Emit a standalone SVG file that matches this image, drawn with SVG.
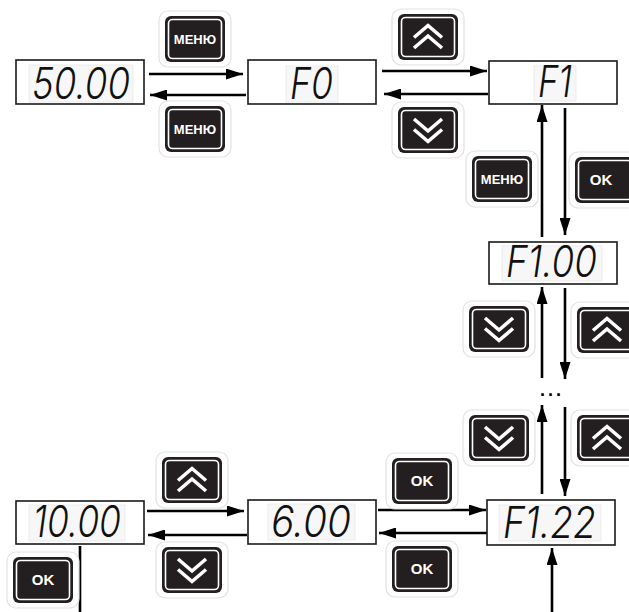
<svg xmlns="http://www.w3.org/2000/svg" width="629" height="612" viewBox="0 0 629 612">
<style>
.box{fill:#fff;stroke:#1a1a1a;stroke-width:1.6}
.hl{fill:#f7f7f7;stroke:#e8e8e8;stroke-width:0.8}
.seg{font-family:Inter,"DejaVu Sans",sans-serif;font-style:italic;font-weight:300;font-size:44px;fill:#111}
.bo{fill:#fff;stroke:#e2e2e2;stroke-width:1.2}
.bd{fill:#231f20}
.bi{fill:none;stroke:#fff;stroke-width:1.6}
.bt{font-family:"Liberation Sans",Arial,sans-serif;font-weight:bold;fill:#fff;text-anchor:middle}
.chev{fill:none;stroke:#fff;stroke-width:3.6;stroke-linejoin:miter;stroke-linecap:butt}
.conn{stroke:#000;stroke-width:2.6;fill:none}
</style>
<defs>
<marker id="ah" markerUnits="userSpaceOnUse" markerWidth="17" markerHeight="11" refX="17" refY="5.5" orient="auto">
<path d="M0,0 L17,5.5 L0,11 z" fill="#000"/>
</marker>
<g id="btn">
<rect class="bo" x="-6" y="-5" width="72" height="56" rx="9"/>
<rect class="bd" x="0" y="0" width="60" height="46" rx="6"/>
<rect class="bi" x="3.5" y="3.5" width="53" height="39" rx="4"/>
</g>
<path id="up" class="chev" d="M16,23.5 L30,11.5 L44,23.5 M16,34 L30,22 L44,34"/>
<path id="dn" class="chev" d="M16,12 L30,24 L44,12 M16,22.5 L30,34.5 L44,22.5"/>
</defs>

<g id="connectors">
<line class="conn" x1="149" y1="74" x2="243" y2="74" marker-end="url(#ah)"/>
<line class="conn" x1="246" y1="95" x2="150" y2="95" marker-end="url(#ah)"/>
<line class="conn" x1="382" y1="71" x2="487" y2="71" marker-end="url(#ah)"/>
<line class="conn" x1="488" y1="94" x2="384" y2="94" marker-end="url(#ah)"/>
<line class="conn" x1="542" y1="237" x2="542" y2="105" marker-end="url(#ah)"/>
<line class="conn" x1="565" y1="108" x2="565" y2="235" marker-end="url(#ah)"/>
<line class="conn" x1="542" y1="378" x2="542" y2="287" marker-end="url(#ah)"/>
<line class="conn" x1="565" y1="288" x2="565" y2="379" marker-end="url(#ah)"/>
<line class="conn" x1="542" y1="494" x2="542" y2="405" marker-end="url(#ah)"/>
<line class="conn" x1="565" y1="407" x2="565" y2="496" marker-end="url(#ah)"/>
<line class="conn" x1="378" y1="510" x2="486" y2="510" marker-end="url(#ah)"/>
<line class="conn" x1="487" y1="533" x2="379" y2="533" marker-end="url(#ah)"/>
<line class="conn" x1="147" y1="511" x2="244" y2="511" marker-end="url(#ah)"/>
<line class="conn" x1="247" y1="535" x2="148" y2="535" marker-end="url(#ah)"/>
<line class="conn" x1="552" y1="612" x2="552" y2="548" marker-end="url(#ah)"/>
<line class="conn" x1="80" y1="546" x2="80" y2="612"/>
<text x="552" y="396" font-family="Liberation Sans,Arial,sans-serif" font-weight="bold" font-size="18" text-anchor="middle" letter-spacing="3">...</text>
</g>

<g id="n5000">
<rect class="box" x="16" y="60" width="128" height="44"/>
<rect class="hl" x="29" y="65" width="104" height="37"/>
<text class="seg" x="32" y="99" textLength="98" lengthAdjust="spacingAndGlyphs">50.00</text>
</g>
<g id="nF0">
<rect class="box" x="248" y="60" width="128" height="44"/>
<rect class="hl" x="286" y="66" width="52" height="36"/>
<text class="seg" x="290" y="99" textLength="43" lengthAdjust="spacingAndGlyphs">F0</text>
</g>
<g id="nF1">
<rect class="box" x="489" y="61" width="128" height="43"/>
<rect class="hl" x="534" y="66" width="42" height="35"/>
<text class="seg" x="538" y="97" textLength="34" lengthAdjust="spacingAndGlyphs">F1</text>
</g>
<g id="nF100">
<rect class="box" x="489" y="242" width="128" height="42"/>
<rect class="hl" x="502" y="246" width="100" height="35"/>
<text class="seg" x="506" y="277" textLength="91" lengthAdjust="spacingAndGlyphs">F1.00</text>
</g>
<g id="nF122">
<rect class="box" x="487" y="500" width="128" height="45"/>
<rect class="hl" x="499" y="505" width="102" height="36"/>
<text class="seg" x="503" y="538" textLength="93" lengthAdjust="spacingAndGlyphs">F1.22</text>
</g>
<g id="n600">
<rect class="box" x="248" y="500" width="128" height="44"/>
<rect class="hl" x="268" y="504" width="87" height="36"/>
<text class="seg" x="271" y="537" textLength="80" lengthAdjust="spacingAndGlyphs">6.00</text>
</g>
<g id="n1000">
<rect class="box" x="16" y="501" width="128" height="43"/>
<rect class="hl" x="29" y="505" width="96" height="36"/>
<text class="seg" x="33" y="537" textLength="88" lengthAdjust="spacingAndGlyphs">10.00</text>
</g>

<g id="b-menu-top" transform="translate(165,16)"><use href="#btn"/><text class="bt" x="30" y="28" font-size="13">МЕНЮ</text></g>
<g id="b-menu-bot" transform="translate(165,106)"><use href="#btn"/><text class="bt" x="30" y="28" font-size="13">МЕНЮ</text></g>
<g id="b-up-top" transform="translate(398,14)"><use href="#btn"/><use href="#up"/></g>
<g id="b-dn-top" transform="translate(398,107)"><use href="#btn"/><use href="#dn"/></g>
<g id="b-menu-right" transform="translate(472,156)"><use href="#btn"/><text class="bt" x="30" y="28" font-size="13">МЕНЮ</text></g>
<g id="b-ok-right" transform="translate(575,157)"><use href="#btn"/><text class="bt" x="26" y="28" font-size="15">OK</text></g>
<g id="b-dn-r1" transform="translate(469,306)"><use href="#btn"/><use href="#dn"/></g>
<g id="b-up-r1" transform="translate(577,307)"><use href="#btn"/><use href="#up"/></g>
<g id="b-dn-r2" transform="translate(469,415)"><use href="#btn"/><use href="#dn"/></g>
<g id="b-up-r2" transform="translate(577,415)"><use href="#btn"/><use href="#up"/></g>
<g id="b-ok-mid-top" transform="translate(392,458)"><use href="#btn"/><text class="bt" x="30" y="28" font-size="15">OK</text></g>
<g id="b-ok-mid-bot" transform="translate(392,546)"><use href="#btn"/><text class="bt" x="30" y="28" font-size="15">OK</text></g>
<g id="b-up-bl" transform="translate(162,457)"><use href="#btn"/><use href="#up"/></g>
<g id="b-dn-bl" transform="translate(162,547)"><use href="#btn"/><use href="#dn"/></g>
<g id="b-ok-left" transform="translate(13,557)"><use href="#btn"/><text class="bt" x="30" y="28" font-size="15">OK</text></g>
</svg>
